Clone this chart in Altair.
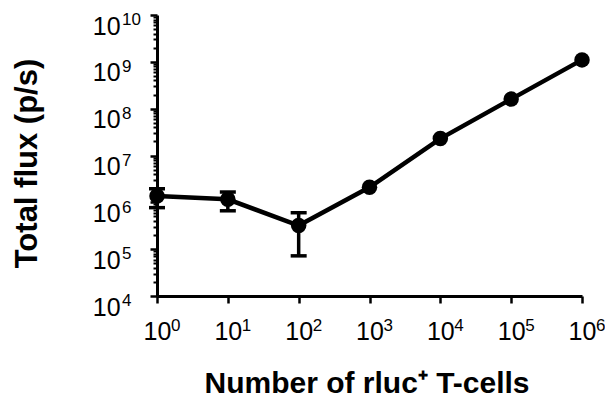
import altair as alt
import pandas as pd

# ---- data ----
cells = [1, 10, 100, 1000, 10000, 100000, 1000000]
flux = [1.36e6, 1.16e6, 3.2e5, 2.1e6, 2.3e7, 1.6e8, 1.1e9]

err_cells = [1, 10, 100]
err_low = [7.7e5, 6.6e5, 7.2e4]
err_high = [1.95e6, 1.66e6, 6.0e5]

x_tick_values = [1, 10, 100, 1000, 10000, 100000, 1000000]
y_major = [1e4, 1e5, 1e6, 1e7, 1e8, 1e9, 1e10]
y_tick_values = [k * 10 ** e for e in range(4, 10) for k in range(1, 10)] + [1e10]

x_title = "Number of rluc⁺ T-cells"
y_title = "Total flux (p/s)"

df = pd.DataFrame({"cells": cells, "flux": flux})
edf = pd.DataFrame({"cells": err_cells, "lo": err_low, "hi": err_high})

lg = "(log(datum.value)/LN10)"
is_major = f"abs({lg} - round({lg})) < 0.001"
base_expr = f"{is_major} ? '10' : ''"
exp_expr = f"'' + round({lg})"

FONT = "Liberation Sans"
BASE = 25
SUP = 17

x_axis = alt.Axis(
    values=x_tick_values,
    labelExpr="'10'",
    title=x_title,
    titleFont=FONT,
    titleFontSize=30,
    titleFontWeight="bold",
    titleBaseline="alphabetic",
    titleY=96,
    titleX=209.5,
    labelFont=FONT,
    labelFontSize=BASE,
    labelAlign="center",
    labelBaseline="top",
    labelPadding=16,
    tickSize=7,
    tickWidth=2.5,
    domainWidth=3,
    grid=False,
    labelFlush=False,
    labelOverlap=False,
)

y_axis = alt.Axis(
    values=y_tick_values,
    labelExpr=base_expr,
    title=y_title,
    titleFont=FONT,
    titleFontSize=31,
    titleFontWeight="bold",
    titleX=-121,
    titleY=148,
    titleAngle=-90,
    titleBaseline="alphabetic",
    labelFont=FONT,
    labelFontSize=BASE,
    labelAlign="left",
    labelBaseline="top",
    labelOffset=-0.85,
    labelPadding=57.7,
    tickSize={"condition": {"test": is_major, "value": 7}, "value": 4},
    tickWidth={"condition": {"test": is_major, "value": 2.5}, "value": 2},
    domainWidth=3,
    grid=False,
    labelFlush=False,
    labelOverlap=False,
)

# exponent (superscript) axes
x_sup_axis = alt.Axis(
    orient="bottom",
    values=x_tick_values,
    labelExpr=exp_expr,
    title=None,
    domain=False,
    tickSize=0,
    tickOpacity=0,
    labelFont=FONT,
    labelFontSize=SUP,
    labelAlign="left",
    labelBaseline="top",
    labelOffset=13.5,
    labelPadding=21.7,
    grid=False,
    labelFlush=False,
    labelOverlap=False,
)
y_sup_axis = alt.Axis(
    orient="left",
    values=y_major,
    labelExpr=exp_expr,
    title=None,
    domain=False,
    tickSize=0,
    tickOpacity=0,
    labelFont=FONT,
    labelFontSize=SUP,
    labelAlign="left",
    labelBaseline="top",
    labelOffset=-3.3,
    labelPadding=35.5,
    grid=False,
    labelFlush=False,
    labelOverlap=False,
)

xs = alt.Scale(type="log", domain=[1, 1e6], nice=False)
ys = alt.Scale(type="log", domain=[1e4, 1e10], nice=False)

X = alt.X("cells:Q", scale=xs, axis=x_axis)

line = alt.Chart(df).mark_line(color="black", strokeWidth=4.5, clip=False).encode(
    x=X, y=alt.Y("flux:Q", scale=ys, axis=y_axis)
)
points = alt.Chart(df).mark_circle(color="black", size=240, opacity=1, clip=False).encode(
    x=X, y=alt.Y("flux:Q", scale=ys, axis=y_axis)
)
bars = alt.Chart(edf).mark_rule(color="black", strokeWidth=3.5, clip=False).encode(
    x=X, y=alt.Y("lo:Q", scale=ys, axis=y_axis), y2="hi:Q"
)
cap_lo = alt.Chart(edf).mark_tick(
    color="black", orient="horizontal", size=16, thickness=3.5, opacity=1, clip=False
).encode(x=X, y=alt.Y("lo:Q", scale=ys, axis=y_axis))
cap_hi = alt.Chart(edf).mark_tick(
    color="black", orient="horizontal", size=16, thickness=3.5, opacity=1, clip=False
).encode(x=X, y=alt.Y("hi:Q", scale=ys, axis=y_axis))

main = alt.layer(bars, cap_lo, cap_hi, line, points)

sup_layer = alt.Chart(df).mark_point(opacity=0).encode(
    x=alt.X("cells:Q", scale=xs, axis=x_sup_axis),
    y=alt.Y("flux:Q", scale=ys, axis=y_sup_axis),
)

chart = (
    alt.layer(main, sup_layer)
    .resolve_axis(x="independent", y="independent")
    .properties(
        width=425,
        height=281,
        autosize=alt.AutoSizeParams(type="none"),
        padding={"left": 149, "top": 7, "right": 23, "bottom": 104},
        background="white",
    )
    .configure_view(stroke=None)
    .configure_axis(
        domainColor="black", tickColor="black", labelColor="black", titleColor="black"
    )
)

chart.save("out.html", embed_options={"renderer": "svg", "actions": False})
